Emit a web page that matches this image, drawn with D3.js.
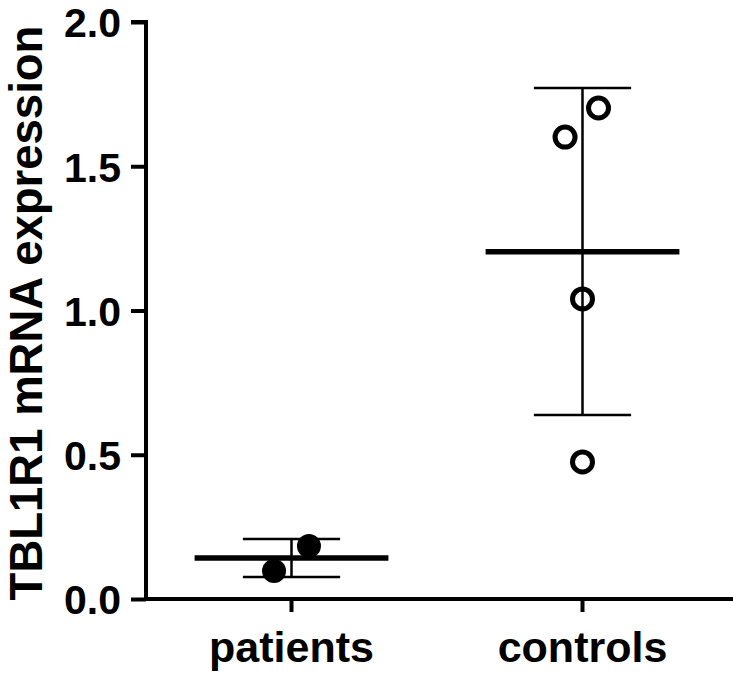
<!DOCTYPE html>
<html><head><meta charset="utf-8">
<script src="https://cdn.jsdelivr.net/npm/d3@7"></script>
<style>body{margin:0;background:#fff}svg{display:block}text{font-family:"Liberation Sans",Arial,sans-serif;font-weight:bold;fill:#000}</style>
</head><body><svg id="c" width="733" height="674"></svg>
<script>
const categories = ["patients", "controls"];
const patientsValues = [0.097, 0.184];
const controlsValues = [1.702, 1.601, 1.040, 0.475];
const patientsJitter = [-0.06, 0.06];
const controlsJitter = [0.055, -0.06, 0, 0];
const means = [0.142, 1.204];
const sdLow = [0.076, 0.638];
const sdHigh = [0.208, 1.771];
const yTicks = [0, 0.5, 1.0, 1.5, 2.0];
const yTitle = "TBL1R1 mRNA expression";

const svg = d3.select("#c");
const mLeft = 146, mRight = 728, mTop = 22, mBottom = 599;
const x = d3.scaleBand().domain(categories).range([mLeft, mRight]);
const cx = c => x(c) + x.bandwidth() / 2;
const y = d3.scaleLinear().domain([0, 2]).range([mBottom, mTop]);

// y axis
const ya = svg.append("g").attr("transform", `translate(${mLeft},0)`)
  .call(d3.axisLeft(y).tickValues(yTicks).tickFormat(d3.format(".1f")).tickSize(15).tickPadding(10));
ya.select(".domain").attr("stroke", "#000").attr("stroke-width", 4).attr("d", `M-15,${mTop}H0V${mBottom}`);
ya.selectAll(".tick line").attr("stroke", "#000").attr("stroke-width", 4);
ya.selectAll(".tick text").style("font-size", "41px").attr("dy", "0.36em");

// x axis
const xa = svg.append("g").attr("transform", `translate(0,${mBottom})`)
  .call(d3.axisBottom(x).tickSize(13).tickPadding(10));
xa.select(".domain").attr("stroke", "#000").attr("stroke-width", 4).attr("d", `M${mLeft},0H733`);
xa.selectAll(".tick line").attr("stroke", "#000").attr("stroke-width", 4);
xa.selectAll(".tick text").style("font-size", "43px").attr("dy", "0.93em");

// y title
svg.append("text").attr("transform", `translate(42,313) rotate(-90)`)
  .attr("text-anchor", "middle").style("font-size", "45.5px").text(yTitle);

const bw = x.bandwidth();
// error bars
categories.forEach((c, i) => {
  const g = svg.append("g").attr("stroke", "#000");
  g.append("line").attr("x1", cx(c)).attr("x2", cx(c)).attr("y1", y(sdLow[i])).attr("y2", y(sdHigh[i])).attr("stroke-width", 2.5);
  [sdLow[i], sdHigh[i]].forEach(v => g.append("line").attr("x1", cx(c) - bw * 0.167).attr("x2", cx(c) + bw * 0.167)
    .attr("y1", y(v)).attr("y2", y(v)).attr("stroke-width", 2.5));
  g.append("line").attr("x1", cx(c) - bw * 0.333).attr("x2", cx(c) + bw * 0.333)
    .attr("y1", y(means[i])).attr("y2", y(means[i])).attr("stroke-width", 5.5);
});

// points
svg.append("g").selectAll("circle").data(patientsValues).join("circle")
  .attr("cx", (d, i) => cx("patients") + patientsJitter[i] * bw).attr("cy", d => y(d))
  .attr("r", 12).attr("fill", "#000");
svg.append("g").selectAll("circle").data(controlsValues).join("circle")
  .attr("cx", (d, i) => cx("controls") + controlsJitter[i] * bw).attr("cy", d => y(d))
  .attr("r", 10).attr("fill", "none").attr("stroke", "#000").attr("stroke-width", 5);
</script></body></html>
